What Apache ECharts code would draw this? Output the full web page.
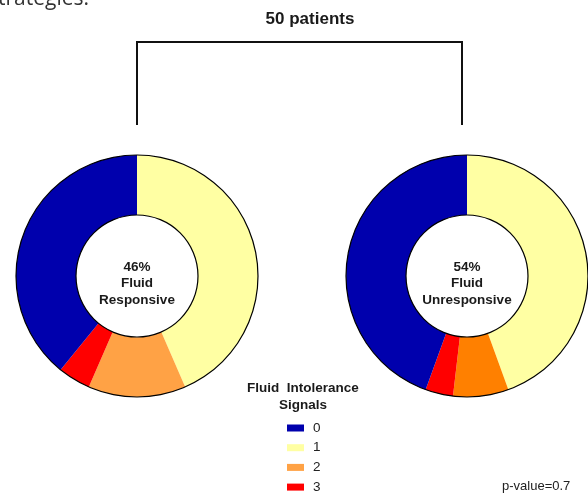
<!DOCTYPE html>
<html>
<head>
<meta charset="utf-8">
<title>Fluid intolerance signals</title>
<script src="https://cdn.jsdelivr.net/npm/echarts@6/dist/echarts.min.js"></script>
<style>
html, body { margin:0; height:100%; background:#fff; }
</style>
</head>
<body>
<div id="main" style="width:588px;height:493px;"></div>
<script>
// number of patients per fluid intolerance signal count
var signals = ['0', '1', '2', '3'];
var responsive = [9, 10, 3, 1];      // 23 patients (46%)
var unresponsive = [12, 12, 2, 1];   // 27 patients (54%)
var pValue = 'p-value=0.7';

var colorsLeft  = {'0':'#0000AD', '1':'#FFFFA3', '2':'#FFA245', '3':'#FF0000'};
var colorsRight = {'0':'#0000AD', '1':'#FFFFA3', '2':'#FF8000', '3':'#FF0000'};

// clockwise from 12 o'clock: 1, 2, 3, 0
var drawOrder = [1, 2, 3, 0];

function buildData(vals, cols) {
    return drawOrder.map(function (i) {
        return { name: signals[i], value: vals[i], itemStyle: { color: cols[signals[i]] } };
    });
}

function donut(name, center, vals, cols) {
    return {
        name: name,
        type: 'pie',
        center: center,
        radius: [61, 121],
        startAngle: 90,
        clockwise: true,
        silent: true,
        label: { show: false },
        labelLine: { show: false },
        itemStyle: { borderWidth: 0 },
        data: buildData(vals, cols)
    };
}

function outline(center, r) {
    return {
        type: 'pie',
        center: center,
        radius: [r - 0.6, r + 0.6],
        silent: true,
        label: { show: false },
        labelLine: { show: false },
        itemStyle: { color: '#000' },
        data: [{ name: 'ring', value: 1 }]
    };
}

var cL = [137, 276], cR = [467, 276];

var myChart = echarts.init(document.getElementById('main'));

var bold = { fontFamily: 'Liberation Sans', fontWeight: 'bold', color: '#1a1a1a' };

var option = {
    animation: false,
    title: [
        { text: '50 patients', left: 310, top: 11, padding: 0, textAlign: 'center',
          textStyle: Object.assign({ fontSize: 17 }, bold) },
        { text: '46%\nFluid\nResponsive', left: 137, top: 259, padding: 0, textAlign: 'center',
          textStyle: Object.assign({ fontSize: 13.5, lineHeight: 16.5 }, bold) },
        { text: '54%\nFluid\nUnresponsive', left: 467, top: 259, padding: 0, textAlign: 'center',
          textStyle: Object.assign({ fontSize: 13.5, lineHeight: 16.5 }, bold) },
        { text: 'Fluid  Intolerance\nSignals', left: 303, top: 380, padding: 0, textAlign: 'center',
          textStyle: Object.assign({ fontSize: 13.5, lineHeight: 17 }, bold) },
        { text: pValue, left: 502, top: 480, padding: 0,
          textStyle: { fontFamily: 'Liberation Sans', fontSize: 13, fontWeight: 'normal', color: '#222' } }
    ],
    legend: {
        data: signals,
        orient: 'vertical',
        left: 287,
        top: 421,
        height: 90,
        padding: 0,
        icon: 'rect',
        itemWidth: 17,
        itemHeight: 7,
        itemGap: 5.7,
        selectedMode: false,
        textStyle: { fontFamily: 'Liberation Sans', fontSize: 13.5, color: '#222', padding: [0, 0, 0, 4] }
    },
    graphic: [
        { type: 'polyline', shape: { points: [[137, 125], [137, 42], [462, 42], [462, 125]] },
          style: { stroke: '#111', lineWidth: 2, fill: null } },
        { type: 'text', left: -12, top: -11,
          style: { text: 'strategies.', font: '21px "Open Sans"', fill: '#333' } }
    ],
    series: [
        donut('Fluid Responsive', cL, responsive, colorsLeft),
        donut('Fluid Unresponsive', cR, unresponsive, colorsRight),
        outline(cL, 121), outline(cL, 61),
        outline(cR, 121), outline(cR, 61)
    ]
};

myChart.setOption(option);
</script>
</body>
</html>
